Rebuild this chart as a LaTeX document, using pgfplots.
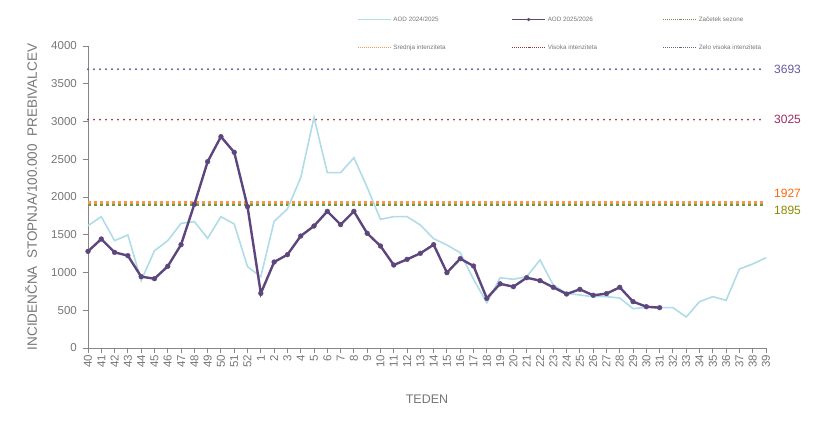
\documentclass[border=0pt]{standalone}
\usepackage{pgfplots}
\pgfplotsset{compat=1.18}
\usepackage{fontspec}
\setmainfont{Liberation Sans}
\definecolor{lightser}{RGB}{176,220,232}
\definecolor{darkser}{RGB}{93,70,125}
\definecolor{zvline}{RGB}{110,92,145}
\definecolor{vline}{RGB}{160,50,55}
\definecolor{sline}{RGB}{247,150,70}
\definecolor{zline}{RGB}{119,147,60}
\definecolor{zvlab}{RGB}{100,90,160}
\definecolor{vlab}{RGB}{160,40,100}
\definecolor{slab}{RGB}{255,102,0}
\definecolor{zlab}{RGB}{139,139,0}
\definecolor{txtgray}{RGB}{118,118,118}
\definecolor{axgray}{RGB}{134,134,134}
\begin{document}
\begin{tikzpicture}
\path[use as bounding box] (-88pt,-86pt) rectangle (744pt,348pt);
\begin{axis}[
  scale only axis,
  width=678pt, height=302pt,
  xmin=0, xmax=51, ymin=0, ymax=4000,
  clip=false,
  axis x line*=bottom, axis y line*=left,
  axis line style={axgray, line width=0.9pt},
  tick style={axgray, line width=0.9pt},
  tick align=outside, major tick length=5pt,
  xtick={0,...,51},
  xticklabels={40,41,42,43,44,45,46,47,48,49,50,51,52,1,2,3,4,5,6,7,8,9,10,11,12,13,14,15,16,17,18,19,20,21,22,23,24,25,26,27,28,29,30,31,32,33,34,35,36,37,38,39},
  ytick={0,500,...,4000},
  /pgf/number format/assume math mode=true,
  /pgf/number format/1000 sep={},
  ticklabel style={font=\fontsize{11.5}{13}\selectfont, text=txtgray},
  xticklabel style={rotate=90, anchor=east, inner sep=2pt},
  yticklabel style={inner sep=2pt, xshift=-4pt},
  xlabel={TEDEN},
  ylabel={INCIDENČNA\ \ STOPNJA/100.000\ \ PREBIVALCEV},
  every axis x label/.style={at={(axis description cs:0.5,-0.169)}, anchor=center, font=\fontsize{12.5}{14}\selectfont, text=txtgray},
  every axis y label/.style={at={(axis description cs:-0.084,0.5)}, anchor=center, rotate=90, font=\fontsize{13.5}{15}\selectfont, text=txtgray},
  legend columns=3,
  legend style={draw=none, fill=none, inner sep=0pt, at={(rel axis cs:0.397,1.105)}, anchor=north west,
    font=\fontsize{6.3}{7}\selectfont, text=txtgray, row sep=18pt,
    cells={anchor=west},
    /tikz/every even column/.append style={column sep=64pt}},
  legend image code/.code={\draw[mark repeat=2,mark phase=2,#1] plot coordinates {(0pt,0pt)(16.5pt,0pt)(33pt,0pt)};},
]
% legend entries
\addlegendimage{lightser, line width=1pt}
\addlegendentry{AOD 2024/2025}
\addlegendimage{darkser, line width=1.2pt, mark=*, mark size=1.5pt, mark options={line width=0.4pt}}
\addlegendentry{AOD 2025/2026}
\addlegendimage{zline!70!gray, line width=0.8pt, dash pattern=on 0.8pt off 1.2pt}
\addlegendentry{Začetek sezone}
\addlegendimage{sline, line width=0.8pt, dash pattern=on 0.8pt off 1.2pt}
\addlegendentry{Srednja intenziteta}
\addlegendimage{vline, line width=0.8pt, dash pattern=on 0.8pt off 1.2pt}
\addlegendentry{Visoka intenziteta}
\addlegendimage{zvline, line width=0.8pt, dash pattern=on 0.8pt off 1.2pt}
\addlegendentry{Zelo visoka intenziteta}
% threshold lines
\addplot[forget plot, zvline, line width=2.2pt, line cap=round, dash pattern=on 0pt off 6pt] coordinates {(0,3693) (51,3693)};
\addplot[forget plot, vline, line width=2.2pt, line cap=round, dash pattern=on 0pt off 6pt] coordinates {(0,3025) (51,3025)};
\addplot[forget plot, zline, line width=2.6pt, dash pattern=on 2.6pt off 3.4pt] coordinates {(0,1895) (51,1895)};
\addplot[forget plot, sline, line width=2.6pt, dash pattern=on 2.6pt off 3.4pt] coordinates {(0,1927) (51,1927)};
% AOD 2024/2025
\addplot[forget plot, lightser, line width=1.6pt] coordinates {
(0,1620)(1,1740)(2,1422)(3,1497)(4,892)(5,1289)(6,1422)(7,1651)(8,1673)(9,1453)
(10,1740)(11,1642)(12,1077)(13,945)(14,1677)(15,1841)(16,2256)(17,3055)(18,2322)(19,2322)
(20,2521)(21,2128)(22,1704)(23,1740)(24,1740)(25,1629)(26,1448)(27,1364)(28,1262)(29,910)
(30,600)(31,931)(32,910)(33,945)(34,1166)(35,834)(36,724)(37,702)(38,680)(39,680)
(40,662)(41,521)(42,539)(43,534)(44,534)(45,411)(46,614)(47,680)(48,631)(49,1046)
(50,1113)(51,1196)};
% AOD 2025/2026
\addplot[forget plot, darkser, line width=2.4pt, mark=*, mark size=2.4pt, mark options={solid, line width=0.4pt}] coordinates {
(0,1280)(1,1444)(2,1267)(3,1223)(4,945)(5,918)(6,1082)(7,1369)(8,1903)(9,2468)
(10,2799)(11,2592)(12,1872)(13,724)(14,1139)(15,1236)(16,1483)(17,1616)(18,1810)(19,1634)
(20,1810)(21,1519)(22,1351)(23,1099)(24,1174)(25,1254)(26,1369)(27,998)(28,1183)(29,1086)
(30,658)(31,850)(32,812)(33,931)(34,892)(35,804)(36,715)(37,777)(38,698)(39,720)
(40,804)(41,614)(42,547)(43,534)};
% value labels
\node[anchor=west, inner sep=0pt, xshift=8pt, text=zvlab, font=\fontsize{12}{14}\selectfont] at (axis cs:51,3693) {3693};
\node[anchor=west, inner sep=0pt, xshift=8pt, text=vlab, font=\fontsize{12}{14}\selectfont] at (axis cs:51,3025) {3025};
\node[anchor=west, inner sep=0pt, xshift=8pt, yshift=9pt, text=slab, font=\fontsize{12}{14}\selectfont] at (axis cs:51,1927) {1927};
\node[anchor=west, inner sep=0pt, xshift=8pt, yshift=-5pt, text=zlab, font=\fontsize{12}{14}\selectfont] at (axis cs:51,1895) {1895};
\end{axis}
\end{tikzpicture}
\end{document}
